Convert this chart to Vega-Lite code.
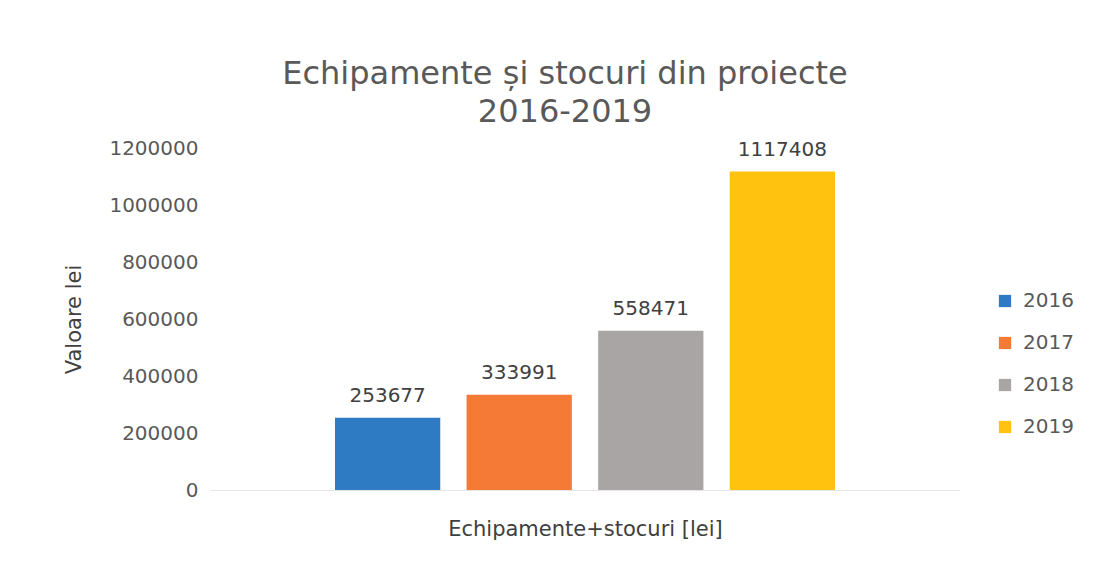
{
  "$schema": "https://vega.github.io/schema/vega-lite/v6.json",
  "autosize": "none",
  "width": 750,
  "height": 342,
  "padding": {"left": 210, "top": 148, "right": 142, "bottom": 81},
  "background": "white",
  "config": {"font": "DejaVu Sans", "view": {"stroke": null}},
  "title": {
    "text": ["Echipamente și stocuri din proiecte", "2016-2019"],
    "fontSize": 32,
    "fontWeight": "normal",
    "color": "#595959",
    "lineHeight": 38,
    "anchor": "middle",
    "dx": -20,
    "offset": 9
  },
  "data": {
    "values": [
      {"an": "2016", "valoare": 253677},
      {"an": "2017", "valoare": 333991},
      {"an": "2018", "valoare": 558471},
      {"an": "2019", "valoare": 1117408}
    ]
  },
  "encoding": {
    "x": {
      "field": "an",
      "type": "nominal",
      "scale": {"paddingInner": 0.2, "paddingOuter": 0.95},
      "axis": {
        "title": "Echipamente+stocuri [lei]",
        "labels": false,
        "ticks": false,
        "domain": true,
        "domainColor": "#e6e6e6",
        "titleFontSize": 21,
        "titleFontWeight": "normal",
        "titleColor": "#404040",
        "titlePadding": 28
      }
    },
    "y": {
      "field": "valoare",
      "type": "quantitative",
      "scale": {"domain": [0, 1200000]},
      "axis": {
        "title": "Valoare lei",
        "values": [0, 200000, 400000, 600000, 800000, 1000000, 1200000],
        "format": "d",
        "grid": false,
        "domain": false,
        "ticks": false,
        "labelFontSize": 20,
        "labelColor": "#595959",
        "labelPadding": 12,
        "titleFontSize": 21,
        "titleFontWeight": "normal",
        "titleColor": "#404040",
        "titlePadding": 24
      }
    }
  },
  "layer": [
    {
      "mark": {"type": "bar"},
      "encoding": {
        "color": {
          "field": "an",
          "type": "nominal",
          "scale": {"range": ["#2E7BC4", "#F47A35", "#A9A5A5", "#FFC20E"]},
          "legend": {
            "title": null,
            "orient": "none",
            "legendX": 785,
            "legendY": 143,
            "symbolType": "square",
            "symbolSize": 150,
            "labelFontSize": 20,
            "labelColor": "#595959",
            "rowPadding": 22,
            "labelOffset": 8
          }
        }
      }
    },
    {
      "mark": {"type": "text", "dy": -22, "fontSize": 20, "color": "#404040"},
      "encoding": {"text": {"field": "valoare", "type": "quantitative", "format": "d"}}
    }
  ]
}
